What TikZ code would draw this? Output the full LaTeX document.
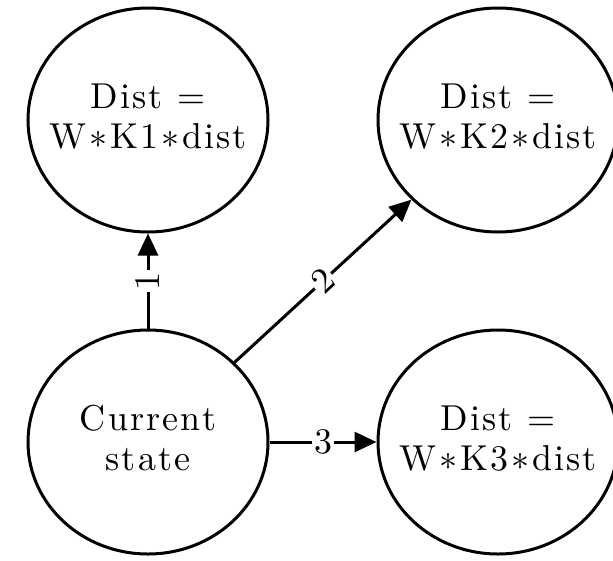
\documentclass[tikz,border=0pt]{standalone}
\usepackage{fontspec}
\setmainfont{lmroman10-regular}[Extension=.otf, LetterSpace=6]
\usepackage{tikz}
\usetikzlibrary{shapes.geometric, positioning, arrows.meta}
\newcommand{\stella}{\hspace{0.08em}\raisebox{-0.28em}{*}\hspace{0.08em}}
\newcommand{\duerighe}[2]{\makebox[0pt]{\begin{tabular}{@{}c@{}}#1\\#2\end{tabular}}}
\tikzset{->, >={Triangle[length=22pt, width=20pt]}, node distance=350pt,
    cerchio/.style={ellipse, minimum width=240pt, minimum height=224pt, inner sep=0pt, draw},
    etichetta/.style={fill=white, inner sep=2pt}}

\begin{document}
\begin{tikzpicture}[x=1pt, y=1pt, line width=3pt, font=\fontsize{36}{40}\selectfont]
        \useasboundingbox (0,0) rectangle (613,-560);
        \node[cerchio] (k1) at (148,-120) {\duerighe{Dist =}{W\stella K1\stella dist}};
        \node[cerchio, right of=k1] (k2) {\duerighe{Dist =}{W\stella K2\stella dist}};
        \node[cerchio, below of=k1, node distance=322pt] (corrente) {\duerighe{Current}{state}};
        \node[cerchio, right of=corrente] (k3) {\duerighe{Dist =}{W\stella K3\stella dist}};
        \draw (corrente) edge node[etichetta, sloped]{1} (k1)
            (corrente) edge node[etichetta, sloped]{2} (k2)
            (corrente) edge node[etichetta]{3} (k3);
    \end{tikzpicture}
\end{document}
